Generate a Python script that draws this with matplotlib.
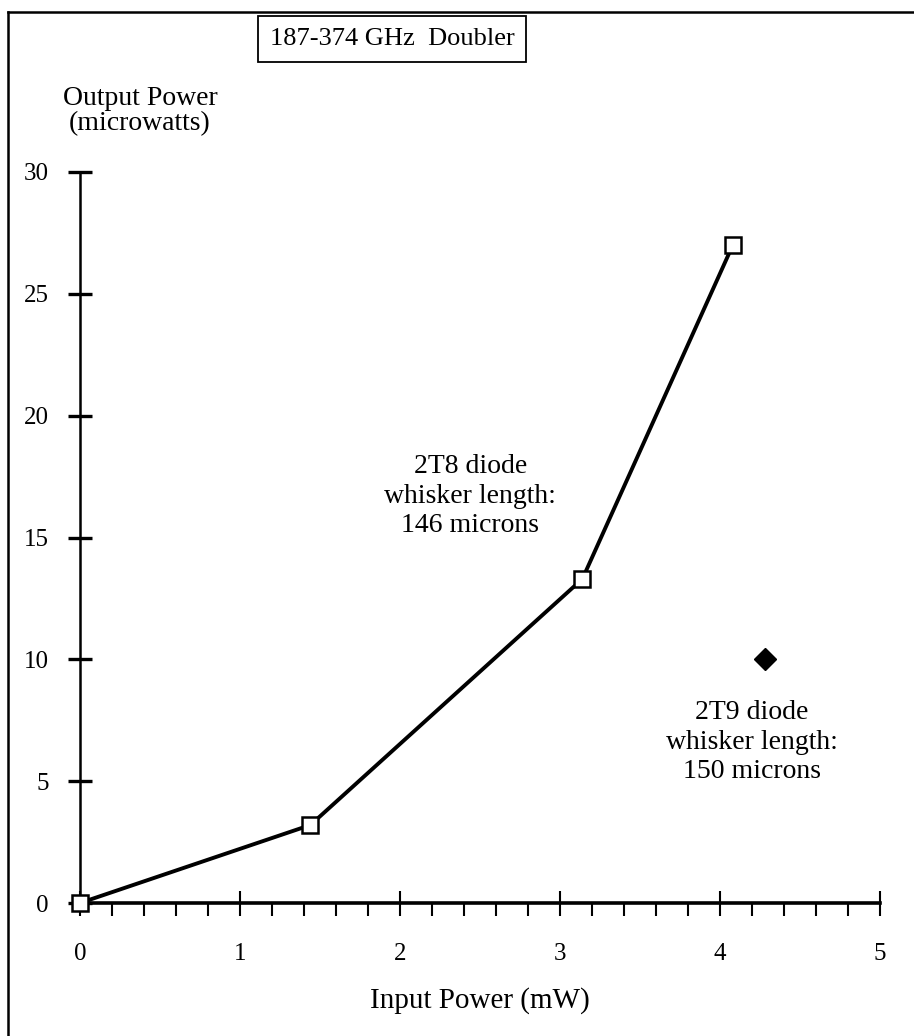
import matplotlib
matplotlib.use("Agg")
import matplotlib.pyplot as plt
from matplotlib.lines import Line2D

# data
input_mw = [0.0, 1.44, 3.14, 4.08]
output_uw = [0.0, 3.2, 13.3, 27.0]
t9_input = [4.28]
t9_output = [10.0]
x_ticks = [0, 1, 2, 3, 4, 5]
y_ticks = [0, 5, 10, 15, 20, 25, 30]

plt.rcParams['font.family'] = ['Liberation Serif', 'DejaVu Serif']

fig = plt.figure(figsize=(9.14, 10.36), dpi=100)
ax = fig.add_axes([80/914, 1-903/1036, 800/914, 731/1036])

ax.plot(input_mw, output_uw, color="black", linewidth=2.8, marker="s",
        markersize=11, markerfacecolor="white", markeredgecolor="black",
        markeredgewidth=1.8, clip_on=False, zorder=3)
ax.plot(t9_input, t9_output, linestyle="none", marker="D", markersize=11,
        color="black", zorder=3)

ax.set_xlim(0, 5)
ax.set_ylim(0, 30)
ax.set_xticks(x_ticks)
ax.set_yticks(y_ticks)
ax.set_xticks([i/5 for i in range(26)], minor=True)

for s in ["top", "right"]:
    ax.spines[s].set_visible(False)
ax.spines["bottom"].set_linewidth(2.6)
ax.spines["left"].set_linewidth(1.8)

ax.tick_params(axis="x", which="major", direction="inout", length=18, width=1.5,
               pad=20, labelsize=18)
ax.tick_params(axis="x", which="minor", direction="out", length=9, width=1.5)
ax.tick_params(axis="y", which="major", direction="inout", length=17, width=2.4,
               pad=14, labelsize=18)

ax.text(2.44, 16.7, "2T8 diode\nwhisker length:\n146 microns", ha="center",
        va="center", fontsize=20, linespacing=1.25)
ax.text(4.2, 6.6, "2T9 diode\nwhisker length:\n150 microns", ha="center",
        va="center", fontsize=20, linespacing=1.25)

ax.set_xlabel("Input Power (mW)", fontsize=21, labelpad=16)

fig.text(140/914, 1-111/1036, "Output Power\n(microwatts)", ha="center",
         va="center", fontsize=20, linespacing=1.05)
fig.text(392/914, 1-39/1036, "187-374 GHz  Doubler", ha="center", va="center",
         fontsize=19, bbox=dict(boxstyle="square,pad=0.45", facecolor="white",
                                edgecolor="black", linewidth=1.3))

# outer frame of the scanned page
fig.add_artist(Line2D([8/914, 8/914], [0, 1-12/1036], color="black", linewidth=1.8))
fig.add_artist(Line2D([8/914, 1], [1-12/1036, 1-12/1036], color="black", linewidth=1.8))

fig.savefig("out.png", dpi=100)
